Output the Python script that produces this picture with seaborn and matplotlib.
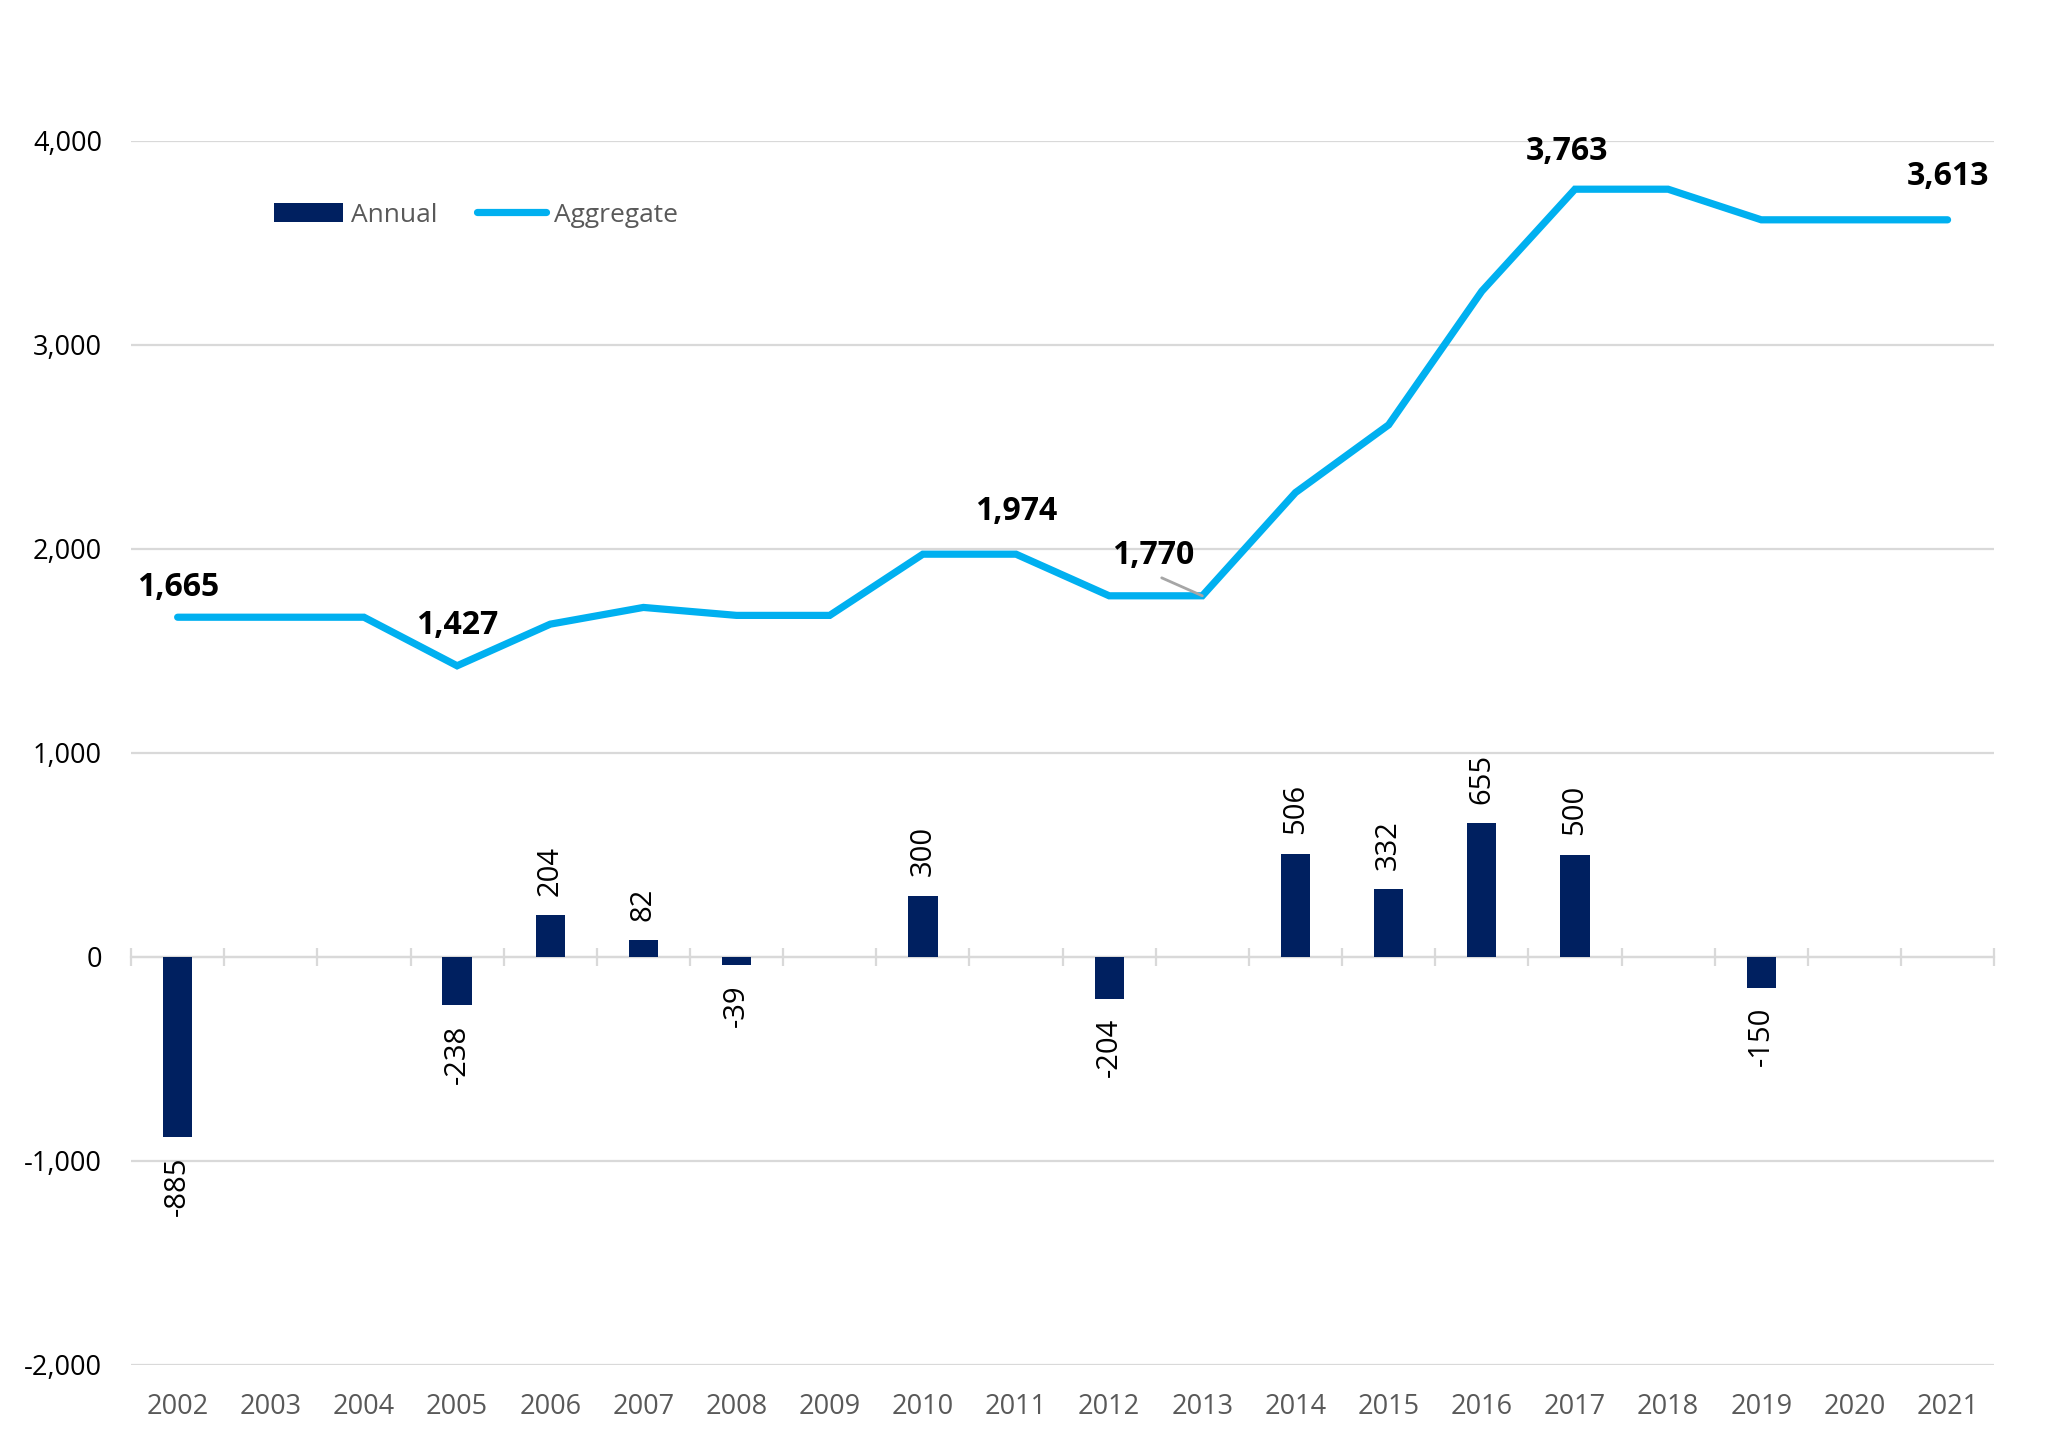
import numpy as np
import pandas as pd
import matplotlib
matplotlib.use("Agg")
import matplotlib.pyplot as plt
import seaborn as sns
from matplotlib.ticker import FuncFormatter

years = [str(y) for y in range(2002, 2022)]
annual = [-885, 0, 0, -238, 204, 82, -39, 0, 300, 0,
          -204, 0, 506, 332, 655, 500, 0, -150, 0, 0]
aggregate = [1665, 1665, 1665, 1427, 1631, 1713, 1674, 1674, 1974, 1974,
             1770, 1770, 2276, 2608, 3263, 3763, 3763, 3613, 3613, 3613]
# highlighted aggregate labels: (year index, text, x offset px, y offset px)
highlights = [(0, "1,665", 0, 30), (3, "1,427", 0, 40), (9, "1,974", 0, 43),
              (15, "3,763", -8, 38), (19, "3,613", 0, 43)]
leader_label = (11, "1,770")

BAR_C = "#002060"
LINE_C = "#00B0F0"
GRID_C = "#D9D9D9"

sns.set_theme(style="white")
plt.rcParams['font.family'] = ['Open Sans', 'DejaVu Sans']

fig = plt.figure(figsize=(20.48, 14.30), dpi=100)
ax = fig.add_axes([0.064, 0.0455, 0.9097, 0.856])

df = pd.DataFrame({"year": years, "annual": annual, "aggregate": aggregate})
sns.barplot(data=df, x="year", y="annual", color=BAR_C, width=0.315,
            saturation=1, ax=ax, label="Annual", zorder=3, linewidth=0)
sns.lineplot(x=np.arange(len(years)), y=df["aggregate"], color=LINE_C,
             lw=5.2, ax=ax, label="Aggregate", zorder=4,
             solid_capstyle="round", solid_joinstyle="miter")

ax.set_xlim(-0.5, len(years) - 0.5)
ax.set_ylim(-2000, 4000)
ax.set_yticks(np.arange(-2000, 4001, 1000))
ax.yaxis.set_major_formatter(FuncFormatter(lambda v, p: f"{int(v):,}"))
ax.set_xlabel("")
ax.set_ylabel("")
for s in ax.spines.values():
    s.set_visible(False)
ax.grid(axis="y", color=GRID_C, lw=1.6, zorder=0)
ax.grid(axis="x", visible=False)
ax.tick_params(axis="y", length=0, pad=21, labelsize=19.5, labelcolor="black")
ax.tick_params(axis="x", length=0, pad=20, labelsize=19.5, labelcolor="#595959")

# category boundary ticks on the zero line
sec = ax.secondary_xaxis(2000 / 6000)
sec.set_xticks(np.arange(-0.5, len(years), 1.0))
sec.tick_params(axis="x", direction="inout", length=13, width=1.6,
                color=GRID_C, labelbottom=False, labeltop=False)
sec.spines["bottom"].set_color(GRID_C)
sec.spines["bottom"].set_linewidth(1.6)
sec.spines["top"].set_visible(False)

# bar labels
bars = ax.containers[0]
labels = ["" if v == 0 else f"{int(v)}" for v in annual]
ax.bar_label(bars, labels=labels, rotation=90, padding=14, fontsize=21,
             color="black")

# aggregate highlight labels
for i, txt, dx, dy in highlights:
    ax.annotate(txt, (i, aggregate[i]), xytext=(dx, dy),
                textcoords="offset pixels", ha="center", va="center",
                fontsize=23, fontweight="bold", color="black", zorder=6)
li, ltxt = leader_label
ax.annotate(ltxt, (li, aggregate[li]), xytext=(-49, 40),
            textcoords="offset pixels", ha="center", va="center",
            fontsize=23, fontweight="bold", color="black", zorder=6,
            arrowprops=dict(arrowstyle="-", color="#A6A6A6", lw=2,
                            shrinkA=4, shrinkB=0, relpos=(0.45, 0)))

handles, lbls = ax.get_legend_handles_labels()
order = [lbls.index("Annual"), lbls.index("Aggregate")]
ax.legend([handles[i] for i in order], [lbls[i] for i in order],
          loc="center left", bbox_to_anchor=(0.134, 0.8495),
          bbox_transform=fig.transFigure, ncol=2, frameon=False, fontsize=19,
          labelcolor="#595959", handlelength=2.6, handleheight=0.75,
          handletextpad=0.3, columnspacing=1.5, borderpad=0, borderaxespad=0)

fig.savefig("out.png", dpi=100, facecolor="white")
